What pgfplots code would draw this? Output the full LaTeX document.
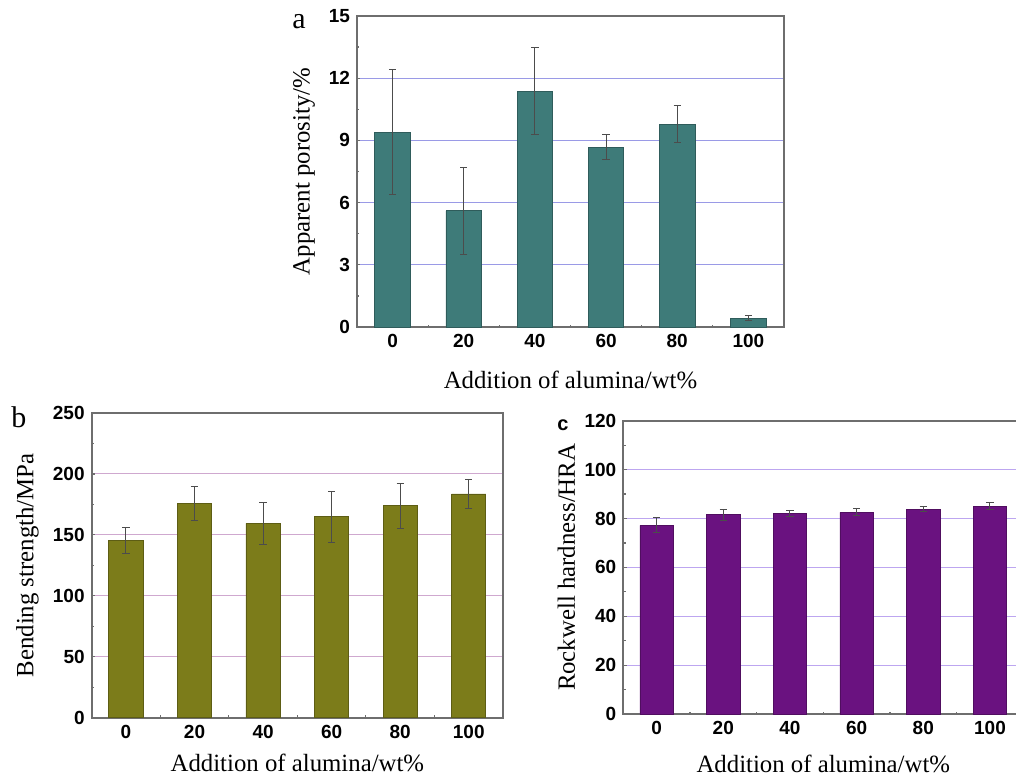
\documentclass[border=0pt]{standalone}
\usepackage{fontspec}
\setmainfont{Liberation Serif}
\setsansfont{Liberation Sans}
\usepackage{pgfplots}
\pgfplotsset{compat=1.18}
\definecolor{barA}{HTML}{3E7B79}
\definecolor{barB}{HTML}{7C7C1A}
\definecolor{barC}{HTML}{6A1280}
\definecolor{gridA}{HTML}{9A9AE6}
\definecolor{gridB}{HTML}{CFA8CF}
\definecolor{gridC}{HTML}{BDA6F0}
\definecolor{axisgray}{HTML}{6E6E6E}
\pgfplotsset{
  panel/.style={
    scale only axis, anchor=south west, clip=false,
    ybar, bar width=0.5,
    xmin=-0.5, xmax=5.5, ymin=0,
    xtick={0,...,5}, xticklabels={0,20,40,60,80,100},
    minor xtick={0.5,1.5,2.5,3.5,4.5},
    minor y tick num=1,
    tick pos=left, tick align=inside,
    major tick length=1.6pt, minor tick length=1.2pt,
    every tick/.style={axisgray, line width=0.6pt},
    axis line style={axisgray, line width=0.9pt},
    ymajorgrids,
    ticklabel style={font=\sffamily\bfseries\fontsize{9.5}{10}\selectfont},
    /pgf/number format/assume math mode=true,
    label style={font=\fontsize{12.4}{14}\selectfont},
    xlabel={Addition of alumina/wt\%},
  },
  ebar/.style={
    line width=0.4pt,
    error bars/.cd, y dir=both, y explicit,
    error bar style={black!70, line width=0.5pt},
    error mark=-,
    error mark options={black!70, line width=0.5pt, mark size=1.8pt, rotate=90},
  },
}
\begin{document}
\begin{tikzpicture}
\path[use as bounding box, clip] (0pt,0pt) rectangle (508pt,389pt);
% panel a
\begin{axis}[panel,
  at={(178.5pt,225.5pt)}, width=213.5pt, height=155.5pt,
  ymax=15, ytick={0,3,...,15},
  grid style={gridA, line width=0.5pt},
  ylabel={Apparent porosity/\%},
  ylabel style={at={(axis description cs:-0.124,0.5)}, anchor=center},
  xlabel style={at={(axis description cs:0.5,-0.199)}, anchor=base},
]
\addplot[fill=barA, draw=barA!75!black, ebar] coordinates {
 (0,9.4) +- (0,3.0)
 (1,5.6) +- (0,2.1)
 (2,11.37) +- (0,2.1)
 (3,8.68) +- (0,0.62)
 (4,9.78) +- (0,0.9)
 (5,0.42) +- (0,0.12)
};
\node[font=\fontsize{15}{15}\selectfont, anchor=base] at (axis description cs:-0.136,0.961) {a};
\end{axis}
% panel b
\begin{axis}[panel,
  at={(45.85pt,30.15pt)}, width=205.65pt, height=152.35pt,
  ymax=250, ytick={0,50,...,250},
  grid style={gridB, line width=0.5pt},
  ylabel={Bending strength/MPa},
  ylabel style={at={(axis description cs:-0.156,0.5)}, anchor=center},
  xlabel style={at={(axis description cs:0.5,-0.177)}, anchor=base},
]
\addplot[fill=barB, draw=barB!75!black, ebar] coordinates {
 (0,145.2) +- (0,10.7)
 (1,175.8) +- (0,14.2)
 (2,159.4) +- (0,17.4)
 (3,164.8) +- (0,21)
 (4,173.8) +- (0,18.3)
 (5,183.6) +- (0,11.8)
};
\node[font=\fontsize{15}{15}\selectfont, anchor=base] at (axis description cs:-0.177,0.954) {b};
\end{axis}
% panel c
\begin{axis}[panel,
  at={(311.65pt,32pt)}, width=200pt, height=146.65pt,
  ymax=120, ytick={0,20,...,120},
  grid style={gridC, line width=0.5pt},
  ylabel={Rockwell hardness/HRA},
  ylabel style={at={(axis description cs:-0.1425,0.5)}, anchor=center},
  xlabel style={at={(axis description cs:0.5,-0.201)}, anchor=base},
]
\addplot[fill=barC, draw=barC!75!black, ebar] coordinates {
 (0,77.2) +- (0,3.0)
 (1,81.5) +- (0,2.2)
 (2,82.0) +- (0,1.1)
 (3,82.5) +- (0,1.4)
 (4,83.7) +- (0,1.0)
 (5,85.1) +- (0,1.4)
};
\node[font=\sffamily\bfseries\fontsize{10}{11}\selectfont, anchor=base] at (axis description cs:-0.151,0.965) {c};
\end{axis}
\end{tikzpicture}
\end{document}
